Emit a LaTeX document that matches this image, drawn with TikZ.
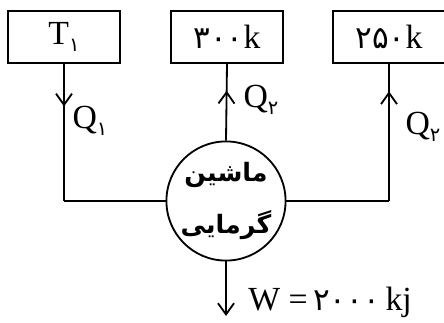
\documentclass[tikz,border=0pt]{standalone}
\usepackage{fontspec}
\setmainfont{Liberation Serif}
\newfontfamily\fanum{DejaVu Sans}[Scale=0.92]
\newfontfamily\farsi[Script=Arabic]{DejaVu Sans}
\TeXXeTstate=1
\usetikzlibrary{arrows.meta,positioning,decorations.markings}
\newcommand{\fasub}[1]{\raisebox{-0.45ex}{\fanum\fontsize{15}{15}\selectfont #1}}

\begin{document}
\begin{tikzpicture}[
    x=0.025cm, y=-0.025cm,
    tbox/.style   = {rectangle, draw, line width=1.3pt, minimum width=2.8cm,
                     minimum height=1.3cm, inner sep=0pt,
                     font=\fontsize{24}{28}\selectfont},
    engine/.style = {circle, draw, line width=1.3pt, minimum size=2.8cm,
                     inner sep=0pt, align=center,
                     font=\farsi\bfseries\fontsize{18}{37}\selectfont},
    wire/.style   = {line width=1.3pt},
    barb/.tip     = {Straight Barb[length=2.8mm, width=4mm, line width=1.3pt]},
    flow/.style   = {wire, postaction={decorate},
                     decoration={markings, mark=at position #1 with {\arrow{barb}}}},
    qlabel/.style = {font=\fontsize{24}{28}\selectfont, inner sep=0pt}
  ]
    \useasboundingbox (0,0) rectangle (444,322);

    % reservoirs
    \node[tbox] (hot)  at (64,37)  {T\fasub{۱}};
    \node[tbox] (cold) at (227,37) {{\fanum ۳۰۰}k};
    \node[tbox] (sink) at (389,37) {{\fanum ۲۵۰}k};

    % heat engine
    \node[engine] (eng) at (226,201) {\beginR ماشین\endR\\\beginR گرمایی\endR};
    \coordinate (wout) at (226,316);

    % heat flows
    \draw[flow=0.31] (hot.south) -- (hot.south |- eng.west);
    \draw[wire] (hot.south |- eng.west) -- (eng.west);
    \draw[flow=0.65] (eng.north) -- (cold.south);
    \draw[wire] (eng.east) -- (sink.south |- eng.east);
    \draw[flow=0.80] (sink.south |- eng.east) -- (sink.south);
    \draw[wire, -barb] (eng.south) -- (wout);

    % labels
    \node[qlabel] (q1) at (90,121)  {Q\fasub{۱}};
    \node[qlabel] (q2) at (261,100) {Q\fasub{۲}};
    \node[qlabel] (q3) at (423,127) {Q\fasub{۲}};
    \node[qlabel, anchor=west] (work) at (248,302) {W =\,{\fanum ۲۰۰۰}\,kj};
  \end{tikzpicture}
\end{document}
